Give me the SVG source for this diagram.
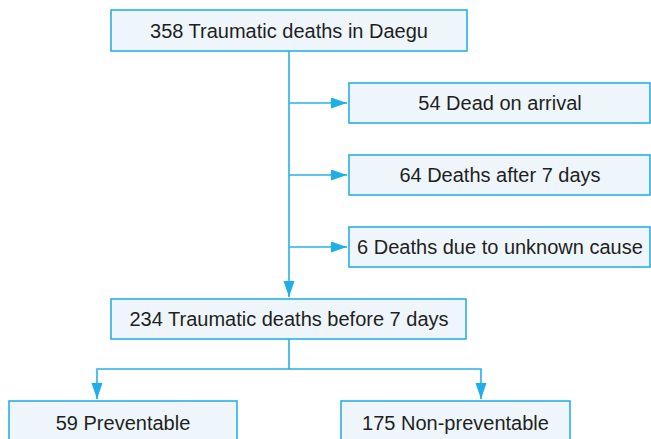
<svg xmlns="http://www.w3.org/2000/svg" width="651" height="439" viewBox="0 0 651 439">
<style>
.box{fill:#EEF6FC;stroke:#29B0E6;stroke-width:1.6}
.lbl{font-family:"Liberation Sans",Arial,sans-serif;font-size:20px;fill:#231F20;text-anchor:middle}
.ln{fill:none;stroke:#29B0E6;stroke-width:1.6}
</style>
<defs>
<marker id="arr" markerUnits="userSpaceOnUse" markerWidth="17" markerHeight="12" refX="16" refY="5.5" orient="auto">
<path d="M0,0 L16,5.5 L0,11 Z" fill="#1EAEEA"/>
</marker>
</defs>
<g id="connectors">
<path class="ln" d="M289,51 V297" marker-end="url(#arr)"/>
<path class="ln" d="M289,103 H347" marker-end="url(#arr)"/>
<path class="ln" d="M289,175 H347" marker-end="url(#arr)"/>
<path class="ln" d="M289,247 H347" marker-end="url(#arr)"/>
<path class="ln" d="M289,339 V369 H97 V399" marker-end="url(#arr)"/>
<path class="ln" d="M289,369 H481 V399" marker-end="url(#arr)"/>
</g>
<g id="n-total">
<rect class="box" x="111" y="10" width="356" height="41"/>
<text class="lbl" x="289" y="38">358 Traumatic deaths in Daegu</text>
</g>
<g id="n-doa">
<rect class="box" x="349" y="83" width="301" height="40"/>
<text class="lbl" x="500" y="110">54 Dead on arrival</text>
</g>
<g id="n-after7">
<rect class="box" x="349" y="155" width="301" height="40"/>
<text class="lbl" x="500" y="182">64 Deaths after 7 days</text>
</g>
<g id="n-unknown">
<rect class="box" x="349" y="227" width="301" height="40"/>
<text class="lbl" x="500" y="254">6 Deaths due to unknown cause</text>
</g>
<g id="n-before7">
<rect class="box" x="111" y="299" width="355" height="40"/>
<text class="lbl" x="289" y="326">234 Traumatic deaths before 7 days</text>
</g>
<g id="n-prev">
<rect class="box" x="9" y="401" width="228" height="42"/>
<text class="lbl" x="123" y="430">59 Preventable</text>
</g>
<g id="n-nonprev">
<rect class="box" x="341" y="401" width="229" height="42"/>
<text class="lbl" x="455.5" y="430">175 Non-preventable</text>
</g>
</svg>
